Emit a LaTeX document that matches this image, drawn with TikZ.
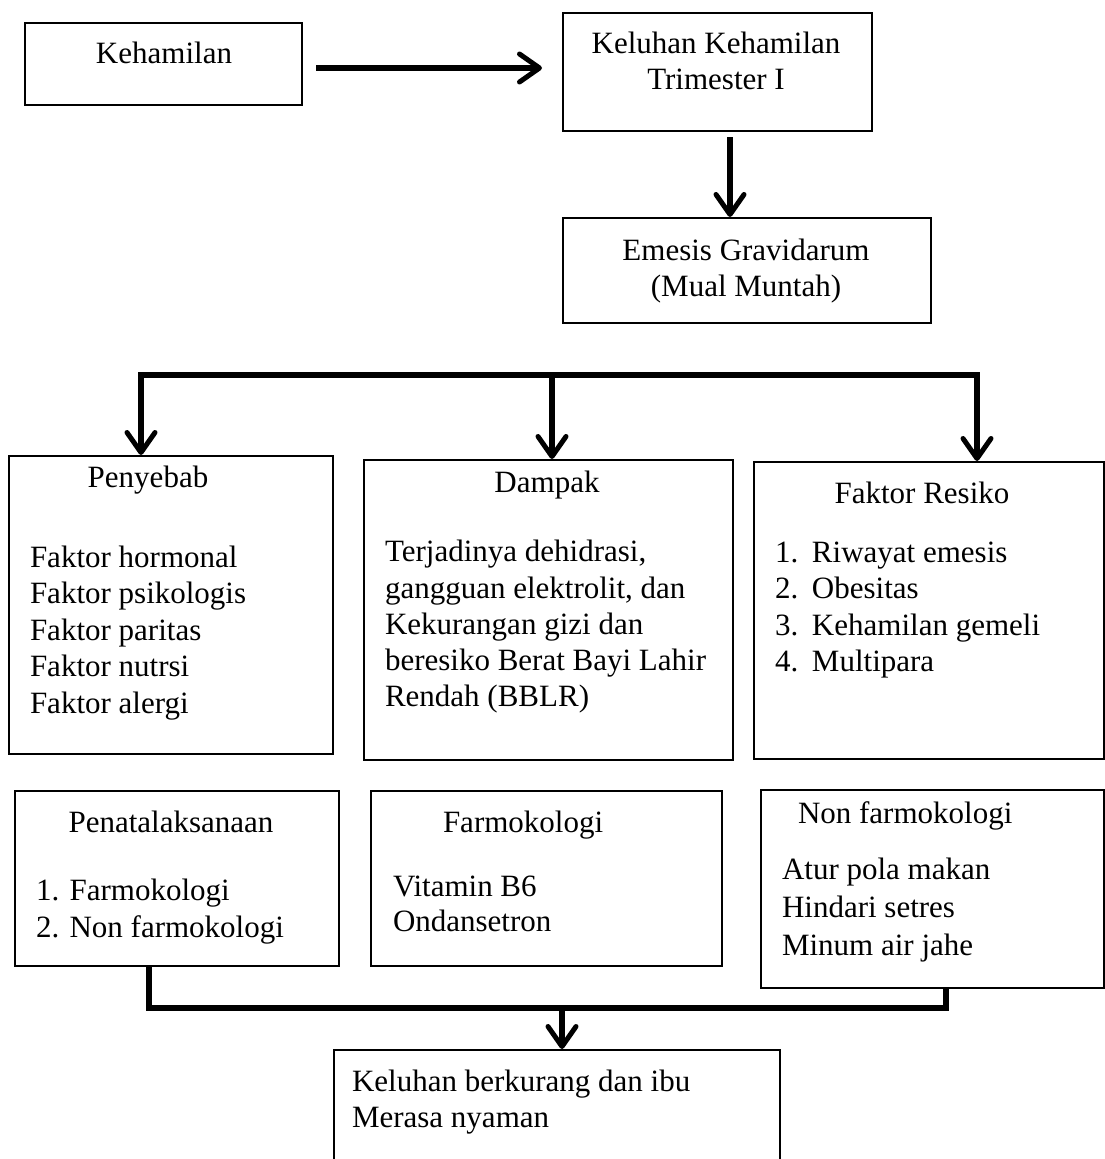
\documentclass[tikz,border=0pt]{standalone}
\usepackage{fontspec}
\setmainfont{Liberation Serif}
\usetikzlibrary{arrows.meta}
\tikzset{
  box/.style={draw=black, line width=2pt, rectangle, inner sep=0pt, anchor=north west},
  conn/.style={line width=6pt, draw=black},
  arr/.style={conn, -{Straight Barb[length=20pt,width=28pt,line width=5pt,round]}},
  txt/.style={inner sep=0pt, outer sep=0pt, font=\fontsize{31}{36.5}\selectfont},
  ltxt/.style={txt, anchor=north west, align=left},
  ctxt/.style={txt, anchor=north, align=center}
}
\begin{document}
\begin{tikzpicture}[x=1pt, y=-1pt]
\clip (0,0) rectangle (1105,1159);
\fill[white] (0,0) rectangle (1105,1159);

% boxes
\node[box, minimum width=277pt, minimum height=82pt] (keh) at (24,22) {};
\node[box, minimum width=309pt, minimum height=118pt] (kel) at (562,12) {};
\node[box, minimum width=368pt, minimum height=105pt] (eme) at (562,217) {};
\node[box, minimum width=324pt, minimum height=298pt] (pen) at (8,455) {};
\node[box, minimum width=369pt, minimum height=300pt] (dam) at (363,459) {};
\node[box, minimum width=350pt, minimum height=297pt] (fak) at (753,461) {};
\node[box, minimum width=324pt, minimum height=175pt] (pnt) at (14,790) {};
\node[box, minimum width=351pt, minimum height=175pt] (far) at (370,790) {};
\node[box, minimum width=343pt, minimum height=198pt] (non) at (760,789) {};
\node[box, minimum width=446pt, minimum height=151pt] (kes) at (333,1049) {};

% texts
\node[ctxt] (tkeh) at (164,37.5) {\strut Kehamilan};
\node[ctxt] (tkel) at (716,27.5) {\strut Keluhan Kehamilan\\\strut Trimester I};
\node[ctxt] (teme) at (746,234.5) {\strut Emesis Gravidarum\\\strut (Mual Muntah)};

\node[ctxt] (tpen) at (148,461.5) {\strut Penyebab};
\node[ltxt] (lpen) at (30,541.5) {\strut Faktor hormonal\\\strut Faktor psikologis\\\strut Faktor paritas\\\strut Faktor nutrsi\\\strut Faktor alergi};

\node[ctxt] (tdam) at (547,466.5) {\strut Dampak};
\node[ltxt, font=\fontsize{31}{36.25}\selectfont] (ldam) at (385,536.5) {\strut Terjadinya dehidrasi,\\\strut gangguan elektrolit, dan\\\strut Kekurangan gizi dan\\\strut beresiko Berat Bayi Lahir\\\strut Rendah (BBLR)};

\node[ctxt] (tfak) at (922,477.5) {\strut Faktor Resiko};
\node[ltxt] (lfak) at (775,536.5) {\strut\makebox[37pt][l]{1.}Riwayat emesis\\\strut\makebox[37pt][l]{2.}Obesitas\\\strut\makebox[37pt][l]{3.}Kehamilan gemeli\\\strut\makebox[37pt][l]{4.}Multipara};

\node[ctxt] (tpnt) at (171,806.5) {\strut Penatalaksanaan};
\node[ltxt, font=\fontsize{31}{37}\selectfont] (lpnt) at (36,874.5) {\strut 1. Farmokologi\\\strut 2. Non farmokologi};

\node[ltxt] (tfar) at (443,806.5) {\strut Farmokologi};
\node[ltxt, font=\fontsize{31}{35.5}\selectfont] (lfar) at (393,871.5) {\strut Vitamin B6\\\strut Ondansetron};

\node[ltxt] (tnon) at (798,797.5) {\strut Non farmokologi};
\node[ltxt, font=\fontsize{31}{38}\selectfont] (lnon) at (782,852.5) {\strut Atur pola makan\\\strut Hindari setres\\\strut Minum air jahe};

\node[ltxt, font=\fontsize{31}{36}\selectfont] (lkes) at (352,1066.5) {\strut Keluhan berkurang dan ibu\\\strut Merasa nyaman};

% connectors
\draw[arr] ([xshift=13pt,yshift=-4pt]keh.east) -- ([xshift=-20pt,yshift=-4pt]kel.west |- keh.east);
\draw[arr] ([xshift=12.5pt,yshift=-5pt]kel.south) -- ([xshift=12.5pt]kel.south |- eme.north);

\coordinate (barL) at (141,375);
\coordinate (barM) at (552,375);
\coordinate (barR) at (977,375);
\draw[conn] ([xshift=-3pt]barL) -- ([xshift=3pt]barR);
\draw[arr] (barL) -- (barL |- pen.north);
\draw[arr] (barM) -- (barM |- dam.north);
\draw[arr] (barR) -- (barR |- fak.north);

\coordinate (botbar) at (562,1008);
\draw[conn] ([xshift=-28pt]pnt.south) |- (botbar) -| ([xshift=13pt]non.south);
\draw[arr] (botbar) -- (botbar |- kes.north);
\end{tikzpicture}
\end{document}
